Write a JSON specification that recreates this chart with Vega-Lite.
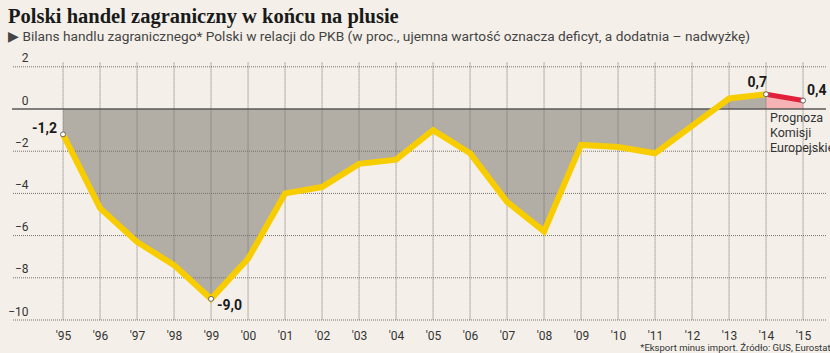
{
  "$schema": "https://vega.github.io/schema/vega-lite/v6.json",
  "width": 814,
  "height": 257.4,
  "autosize": {"type": "none"},
  "padding": {"left": 12, "top": 62.6, "right": 4, "bottom": 33},
  "background": "#f4f0e9",
  "title": {
    "text": "Polski handel zagraniczny w końcu na plusie",
    "subtitle": "▶ Bilans handlu zagranicznego* Polski w relacji do PKB (w proc., ujemna wartość oznacza deficyt, a dodatnia – nadwyżkę)",
    "anchor": "start",
    "frame": "group",
    "dx": -4,
    "offset": 8,
    "font": "Liberation Serif",
    "fontSize": 20.5,
    "fontWeight": "bold",
    "color": "#1a1a1a",
    "subtitleFont": "Roboto",
    "subtitleFontSize": 13.7,
    "subtitleColor": "#444444",
    "subtitlePadding": 3
  },
  "config": {
    "view": {"stroke": null},
    "font": "Roboto"
  },
  "datasets": {
    "main": [
      {"year": 1995, "value": -1.2},
      {"year": 1996, "value": -4.7},
      {"year": 1997, "value": -6.3},
      {"year": 1998, "value": -7.4},
      {"year": 1999, "value": -9.0},
      {"year": 2000, "value": -7.1},
      {"year": 2001, "value": -4.0},
      {"year": 2002, "value": -3.7},
      {"year": 2003, "value": -2.6},
      {"year": 2004, "value": -2.4},
      {"year": 2005, "value": -1.0},
      {"year": 2006, "value": -2.1},
      {"year": 2007, "value": -4.4},
      {"year": 2008, "value": -5.8},
      {"year": 2009, "value": -1.7},
      {"year": 2010, "value": -1.8},
      {"year": 2011, "value": -2.1},
      {"year": 2012, "value": -0.8},
      {"year": 2013, "value": 0.5},
      {"year": 2014, "value": 0.7}
    ],
    "forecast": [
      {"year": 2014, "value": 0.7},
      {"year": 2015, "value": 0.4}
    ],
    "xgrid": [
      {"year": 1995}, {"year": 1996}, {"year": 1997}, {"year": 1998}, {"year": 1999},
      {"year": 2000}, {"year": 2001}, {"year": 2002}, {"year": 2003}, {"year": 2004},
      {"year": 2005}, {"year": 2006}, {"year": 2007}, {"year": 2008}, {"year": 2009},
      {"year": 2010}, {"year": 2011}, {"year": 2012}, {"year": 2013}, {"year": 2014},
      {"year": 2015}
    ],
    "ygrid": [
      {"value": -10}, {"value": -8}, {"value": -6}, {"value": -4}, {"value": -2}, {"value": 2}
    ],
    "labels": [
      {"year": 1995, "value": -1.2, "text": "-1,2"},
      {"year": 1999, "value": -9.0, "text": "-9,0"},
      {"year": 2014, "value": 0.7, "text": "0,7"},
      {"year": 2015, "value": 0.4, "text": "0,4"}
    ],
    "note": [
      {"year": 2014, "value": 0, "text": "Prognoza\nKomisji\nEuropejskiej"}
    ]
  },
  "layer": [
    {
      "data": {"name": "main"},
      "mark": {"type": "area", "color": "#b2ada5", "opacity": 1},
      "encoding": {
        "x": {
          "field": "year", "type": "quantitative",
          "scale": {"domain": [1993.62, 2015.62], "nice": false, "zero": false},
          "axis": {
            "values": [1995, 1996, 1997, 1998, 1999, 2000, 2001, 2002, 2003, 2004, 2005, 2006, 2007, 2008, 2009, 2010, 2011, 2012, 2013, 2014, 2015],
            "format": "d",
            "labelExpr": "\"'\" + substring(datum.label, 2, 4)",
            "ticks": false, "tickSize": 0, "domain": false, "grid": false,
            "labelPadding": 10, "labelFontSize": 12, "labelColor": "#333333",
            "labelFont": "Roboto",
            "title": "*Eksport minus import. Źródło: GUS, Eurostat",
            "titleAnchor": "end", "titleAlign": "right", "titleX": 818,
            "titleFontSize": 9.5, "titleFontWeight": "normal", "titleColor": "#333333",
            "titleFont": "Roboto", "titlePadding": 1
          }
        },
        "y": {
          "field": "value", "type": "quantitative",
          "scale": {"domain": [-10, 2.2], "nice": false},
          "axis": {
            "values": [-10, -8, -6, -4, -2, 0, 2],
            "ticks": false, "tickSize": 0, "domain": false, "grid": false,
            "labelAlign": "right", "labelBaseline": "bottom", "labelPadding": -16,
            "labelOffset": -2,
            "labelFontSize": 12, "labelColor": "#333333", "labelFont": "Roboto",
            "title": null
          }
        },
        "y2": {"datum": 0}
      }
    },
    {
      "data": {"name": "forecast"},
      "mark": {"type": "area", "color": "#f6b3b5", "opacity": 1},
      "encoding": {
        "x": {"field": "year", "type": "quantitative"},
        "y": {"field": "value", "type": "quantitative"},
        "y2": {"datum": 0}
      }
    },
    {
      "data": {"name": "xgrid"},
      "mark": {"type": "rule", "color": "#76726b", "strokeWidth": 1, "strokeDash": [1, 1], "opacity": 1},
      "encoding": {"x": {"field": "year", "type": "quantitative"}}
    },
    {
      "data": {"name": "ygrid"},
      "mark": {"type": "rule", "color": "#76726b", "strokeWidth": 1, "strokeDash": [1, 1], "opacity": 1},
      "encoding": {"y": {"field": "value", "type": "quantitative"}}
    },
    {
      "data": {"values": [{"z": 0}]},
      "mark": {"type": "rule", "color": "#5a5a5a", "strokeWidth": 1.5},
      "encoding": {"y": {"field": "z", "type": "quantitative"}}
    },
    {
      "data": {"name": "main"},
      "mark": {"type": "line", "color": "#f8cd00", "strokeWidth": 6, "strokeJoin": "miter"},
      "encoding": {
        "x": {"field": "year", "type": "quantitative"},
        "y": {"field": "value", "type": "quantitative"}
      }
    },
    {
      "data": {"name": "forecast"},
      "mark": {"type": "line", "color": "#e2203a", "strokeWidth": 5},
      "encoding": {
        "x": {"field": "year", "type": "quantitative"},
        "y": {"field": "value", "type": "quantitative"}
      }
    },
    {
      "data": {"name": "labels"},
      "mark": {"type": "point", "filled": true, "fill": "#ffffff", "stroke": "#666666", "strokeWidth": 1, "size": 25, "opacity": 1},
      "encoding": {
        "x": {"field": "year", "type": "quantitative"},
        "y": {"field": "value", "type": "quantitative"}
      }
    },
    {
      "data": {"name": "labels"},
      "transform": [{"filter": "datum.year == 1995"}],
      "mark": {"type": "text", "align": "right", "baseline": "middle", "dx": -6, "dy": -5, "fontSize": 14, "fontWeight": "bold", "color": "#1a1a1a"},
      "encoding": {
        "x": {"field": "year", "type": "quantitative"},
        "y": {"field": "value", "type": "quantitative"},
        "text": {"field": "text"}
      }
    },
    {
      "data": {"name": "labels"},
      "transform": [{"filter": "datum.year == 1999"}],
      "mark": {"type": "text", "align": "left", "baseline": "middle", "dx": 6, "dy": 7, "fontSize": 14, "fontWeight": "bold", "color": "#1a1a1a"},
      "encoding": {
        "x": {"field": "year", "type": "quantitative"},
        "y": {"field": "value", "type": "quantitative"},
        "text": {"field": "text"}
      }
    },
    {
      "data": {"name": "labels"},
      "transform": [{"filter": "datum.year == 2014"}],
      "mark": {"type": "text", "align": "right", "baseline": "middle", "dx": 1, "dy": -11, "fontSize": 14, "fontWeight": "bold", "color": "#1a1a1a"},
      "encoding": {
        "x": {"field": "year", "type": "quantitative"},
        "y": {"field": "value", "type": "quantitative"},
        "text": {"field": "text"}
      }
    },
    {
      "data": {"name": "labels"},
      "transform": [{"filter": "datum.year == 2015"}],
      "mark": {"type": "text", "align": "left", "baseline": "middle", "dx": 4, "dy": -10, "fontSize": 14, "fontWeight": "bold", "color": "#1a1a1a"},
      "encoding": {
        "x": {"field": "year", "type": "quantitative"},
        "y": {"field": "value", "type": "quantitative"},
        "text": {"field": "text"}
      }
    },
    {
      "data": {"name": "note"},
      "mark": {"type": "text", "align": "left", "baseline": "top", "dx": 4, "dy": 3, "fontSize": 12.5, "lineBreak": "\n", "lineHeight": 15, "color": "#333333"},
      "encoding": {
        "x": {"field": "year", "type": "quantitative"},
        "y": {"field": "value", "type": "quantitative"},
        "text": {"field": "text"}
      }
    }
  ]
}
